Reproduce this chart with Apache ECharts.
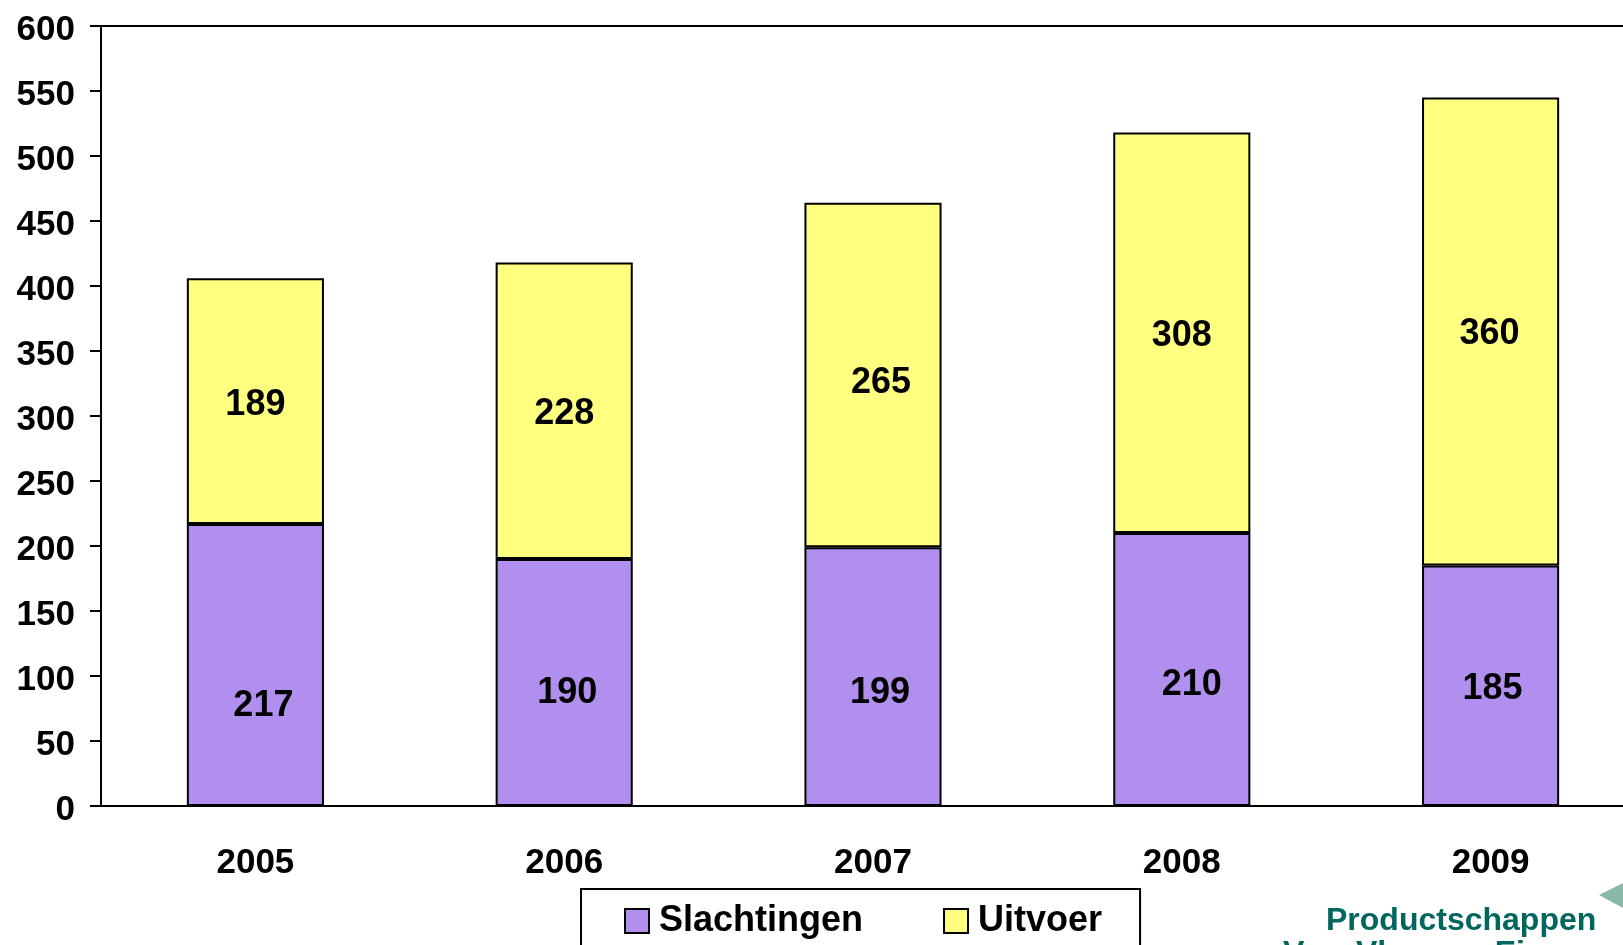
<!DOCTYPE html>
<html>
<head>
<meta charset="utf-8">
<script src="https://cdn.jsdelivr.net/npm/echarts@6/dist/echarts.min.js"></script>
<style>
  html, body { margin: 0; padding: 0; background: #fff; }
  #main { width: 1623px; height: 945px; }
</style>
</head>
<body>
<div id="main"></div>
<script>
var years = ['2005', '2006', '2007', '2008', '2009'];
var slachtingen = [217, 190, 199, 210, 185];
var uitvoer = [189, 228, 265, 308, 360];
var yTicks = [0, 50, 100, 150, 200, 250, 300, 350, 400, 450, 500, 550, 600];

// small nudges of the value labels, as in the original slide
var nudgeSlacht = [[8, 41], [3, 11], [7, 16], [10, 16], [2, 3]];
var nudgeUitvoer = [[0, 4], [0, 3], [8, 8], [0, 3], [-1, 3]];

const purple = '#B18FEE';
const yellow = '#FFFF80';
const font = 'Liberation Sans, Arial, sans-serif';

var myChart = echarts.init(document.getElementById('main'), null, {renderer: 'canvas'});

function withLabels(values, nudge) {
    return values.map(function (v, i) {
        return { value: v, label: { offset: nudge[i] } };
    });
}

var option = {
    animation: false,
    grid: {
        left: 101,
        top: 26,
        width: 1544,
        height: 780,
        outerBoundsMode: 'none',
        containLabel: false,
        show: true,
        borderColor: '#000',
        borderWidth: 2
    },
    legend: {
        data: ['Slachtingen', 'Uitvoer'],
        left: 581,
        top: 889,
        orient: 'horizontal',
        itemWidth: 24,
        itemHeight: 24,
        itemGap: 80,
        padding: [14, 38, 40, 43],
        borderColor: '#000',
        borderWidth: 2,
        icon: 'rect',
        itemStyle: { borderColor: '#000', borderWidth: 2 },
        textStyle: {
            fontFamily: font,
            fontWeight: 'bold',
            fontSize: 36,
            color: '#000',
            padding: [0, 0, 0, 5]
        }
    },
    xAxis: {
        type: 'category',
        data: years,
        axisLine: { lineStyle: { color: '#000', width: 2 } },
        axisTick: { show: false },
        axisLabel: {
            margin: 40,
            fontFamily: font,
            fontWeight: 'bold',
            fontSize: 35,
            color: '#000'
        }
    },
    yAxis: {
        type: 'value',
        min: 0,
        max: 600,
        interval: 50,
        splitLine: { show: false },
        axisLine: { show: true, lineStyle: { color: '#000', width: 2 } },
        axisTick: { show: true, length: 11, lineStyle: { color: '#000', width: 2 } },
        axisLabel: {
            margin: 26,
            fontFamily: font,
            fontWeight: 'bold',
            fontSize: 35,
            color: '#000',
            verticalAlign: 'top',
            lineHeight: 8,
            formatter: function (v) { return yTicks.indexOf(v) >= 0 ? String(v) : ''; }
        }
    },
    series: [
        {
            name: 'Slachtingen',
            type: 'bar',
            stack: 'totaal',
            barWidth: '44.4%',
            data: withLabels(slachtingen, nudgeSlacht),
            itemStyle: { color: purple, borderColor: '#000', borderWidth: 2 },
            label: {
                show: true,
                position: 'inside',
                fontFamily: font,
                fontWeight: 'bold',
                fontSize: 36,
                color: '#000'
            }
        },
        {
            name: 'Uitvoer',
            type: 'bar',
            stack: 'totaal',
            barWidth: '44.4%',
            data: withLabels(uitvoer, nudgeUitvoer),
            itemStyle: { color: yellow, borderColor: '#000', borderWidth: 2 },
            label: {
                show: true,
                position: 'inside',
                fontFamily: font,
                fontWeight: 'bold',
                fontSize: 36,
                color: '#000'
            }
        }
    ],
    graphic: [
        {
            type: 'text',
            left: 1326,
            top: 905,
            style: {
                text: 'Productschappen',
                fontFamily: font,
                fontWeight: 'bold',
                fontSize: 32,
                fill: '#00665E'
            }
        },
        {
            type: 'text',
            left: 1283,
            top: 938,
            style: {
                text: 'Vee, Vlees en Eieren',
                fontFamily: font,
                fontWeight: 'bold',
                fontSize: 32,
                fill: '#00665E'
            }
        },
        {
            type: 'polygon',
            shape: { points: [[1599, 895], [1623, 883], [1623, 908]] },
            style: { fill: '#88B8A8' }
        }
    ]
};

myChart.setOption(option);
</script>
</body>
</html>
